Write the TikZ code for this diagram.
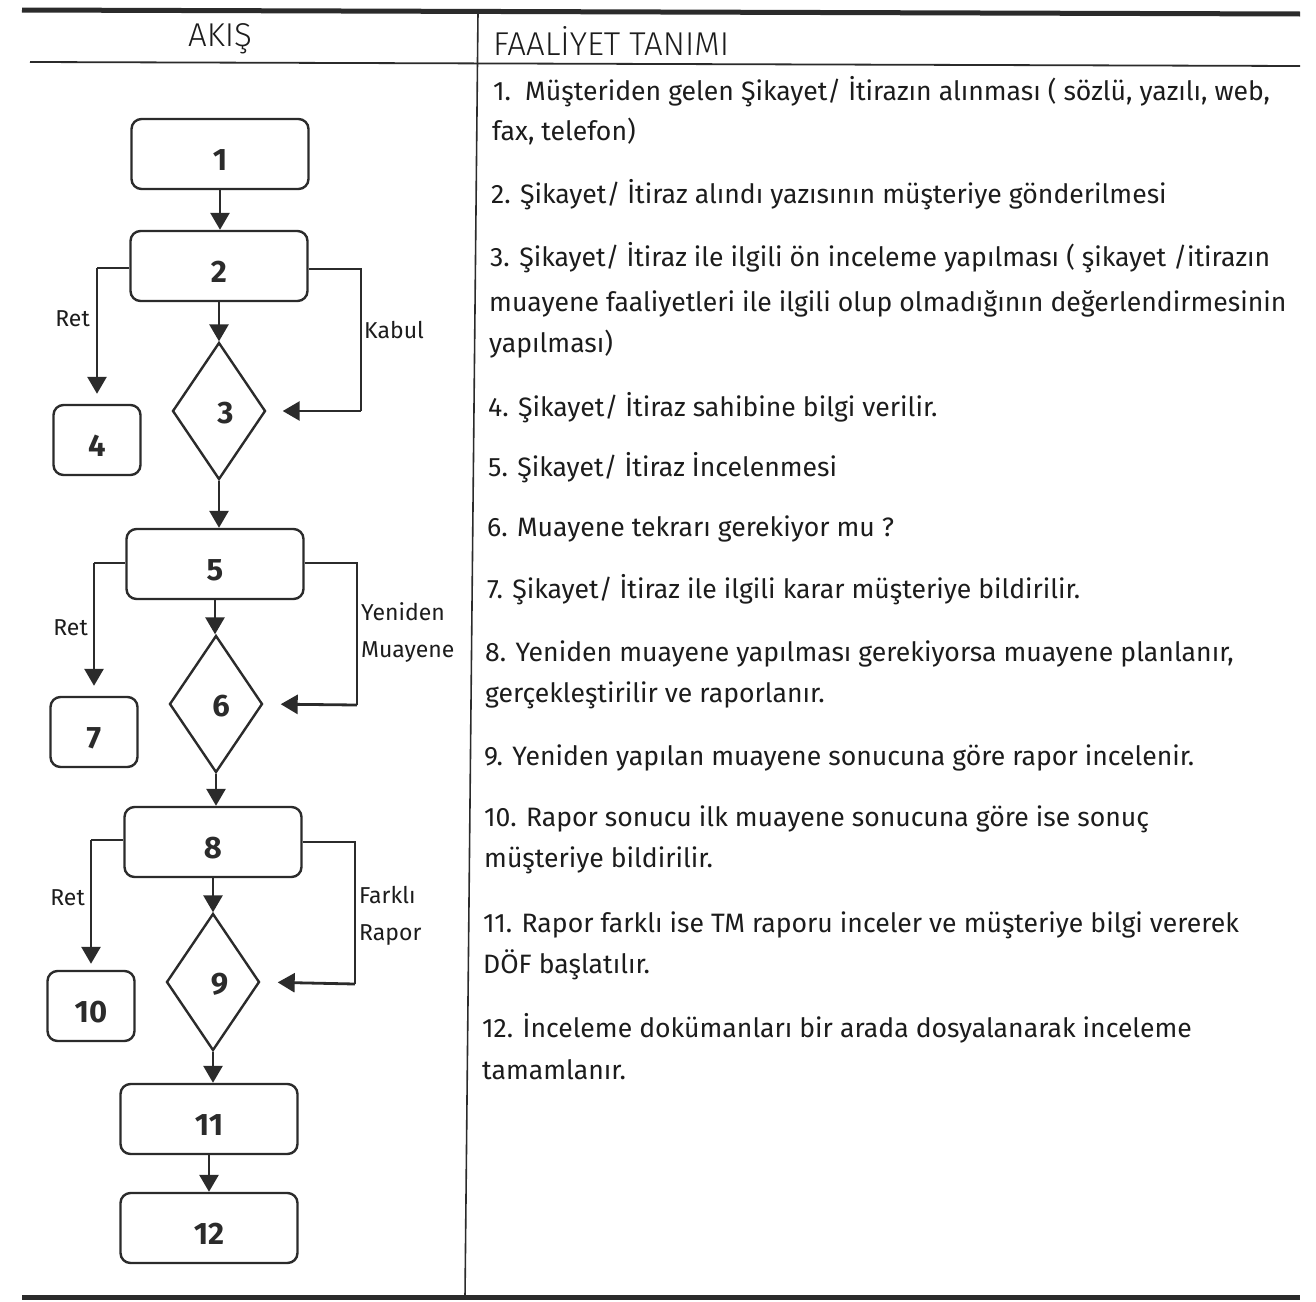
\documentclass[tikz,border=0pt]{standalone}
\usepackage{fontspec}
\setmainfont{Fira Sans}
\newfontfamily\hdrfont{Fira Sans Light}
\newfontfamily\bodyfont{Fira Sans}
\usetikzlibrary{shapes.geometric,arrows.meta}
\definecolor{ink}{HTML}{2B2B2B}
\definecolor{txt}{HTML}{1C1C1C}
\tikzset{
  box/.style={draw=ink,line width=2.4pt,rounded corners=10pt,minimum width=177pt,minimum height=70pt,inner sep=0pt,text height=32pt,text depth=0pt,font=\fontsize{31}{34}\selectfont\bfseries,text=ink},
  sbox/.style={box,minimum width=87pt},
  dia/.style={draw=ink,line width=2.4pt,diamond,minimum width=93pt,minimum height=137pt,inner sep=0pt,text height=25pt,text depth=0pt,font=\fontsize{31}{34}\selectfont\bfseries,text=ink},
  arr/.style={draw=ink,line width=2.8pt,-{Triangle[width=19pt,length=17pt]}},
  thinl/.style={draw=ink,line width=1.3pt},
  lbl/.style={font=\fontsize{23}{25}\selectfont,text=txt,inner sep=0pt},
  body/.style={font=\bodyfont\fontsize{26.6}{30}\selectfont,text=txt,anchor=base west,inner sep=0pt},
  hdr/.style={font=\hdrfont\fontsize{33}{36}\selectfont,text=txt,inner sep=0pt}
}
\begin{document}
\begin{tikzpicture}[x=1pt,y=-1pt]
\useasboundingbox (0,0) rectangle (1316,1301);
% table frame
\draw[ink,line width=5pt] (22,10) -- (1300,14);
\draw[ink,line width=1.8pt] (30,62) -- (1300,66);
\draw[ink,line width=1.6pt] (478,12) -- (465,1297);
\draw[ink,line width=5pt] (22,1297) -- (1300,1297);
\node[hdr] (hA) at (220,39) {AKIŞ};
\node[hdr,anchor=west] (hF) at (493,41) {FAALİYET TANIMI};
% flow nodes
\node[box] (n1) at (220,154) {1};
\node[box] (n2) at (219,266) {2};
\node[dia] (n3) at (219,411) {\hspace{13pt}3};
\node[sbox] (n4) at (97,440) {4};
\node[box] (n5) at (215,564) {5};
\node[dia] (n6) at (216,704) {\hspace{10pt}6};
\node[sbox] (n7) at (94,732) {7};
\node[box] (n8) at (213,842) {8};
\node[dia] (n9) at (213,982) {\hspace{13pt}9};
\node[sbox] (n10) at (91,1006) {10};
\node[box] (n11) at (209,1119) {11};
\node[box] (n12) at (209,1228) {12};
% main flow
\draw[arr] (n1.south) -- (n1.south |- n2.north);
\draw[arr] (n2.south) -- (n2.south |- n3.north);
\draw[arr] (n3.south) -- (n3.south |- n5.north);
\draw[arr] (n5.south) -- (n5.south |- n6.north);
\draw[arr] (n6.south) -- (n6.south |- n8.north);
\draw[arr] (n8.south) -- (n8.south |- n9.north);
\draw[arr] (n9.south) -- (n9.south |- n11.north);
\draw[arr] (n11.south) -- (n11.south |- n12.north);
% branches of 2
\coordinate (c2l) at (97,268);
\draw[thinl] (n2.west |- c2l) -- (c2l);
\draw[arr,shorten >=10pt] (c2l) -- (c2l |- n4.north);
\node[lbl,anchor=east] (r1) at (90,319) {Ret};
\coordinate (c2r) at (361,269);
\coordinate (c3r) at (361,411);
\draw[thinl] (n2.east |- c2r) -- (c2r) -- (c3r);
\draw[arr,shorten >=16pt] (c3r) -- (n3.east);
\node[lbl,anchor=west] (k1) at (364,330) {Kabul};
% branches of 5
\coordinate (c5l) at (94,563);
\draw[thinl] (n5.west |- c5l) -- (c5l);
\draw[arr,shorten >=10pt] (c5l) -- (c5l |- n7.north);
\node[lbl,anchor=east] (r2) at (88,628) {Ret};
\coordinate (c5r) at (357,563);
\coordinate (c6r) at (357,705);
\draw[thinl] (n5.east |- c5r) -- (c5r) -- (c6r);
\draw[arr,shorten >=17pt] (c6r) -- (n6.east);
\node[lbl,anchor=west] (y1) at (361,612) {Yeniden};
\node[lbl,anchor=west] (y2) at (361,652) {Muayene};
% branches of 8
\coordinate (c8l) at (91,840);
\draw[thinl] (n8.west |- c8l) -- (c8l);
\draw[arr,shorten >=6pt] (c8l) -- (c8l |- n10.north);
\node[lbl,anchor=east] (r3) at (85,898) {Ret};
\coordinate (c8r) at (355,842);
\coordinate (c9r) at (355,984);
\draw[thinl] (n8.east |- c8r) -- (c8r) -- (c9r);
\draw[arr,shorten >=17pt] (c9r) -- (n9.east);
\node[lbl,anchor=west] (f1) at (359,895) {Farklı};
\node[lbl,anchor=west] (f2) at (359,935) {Rapor};
% descriptions
\node[body] (t1a) at (493,100) {1.\ \ Müşteriden gelen Şikayet/ İtirazın alınması ( sözlü, yazılı, web,};
\node[body] (t1b) at (492,140) {fax, telefon)};
\node[body] (t2) at (491,203) {2. Şikayet/ İtiraz alındı yazısının müşteriye gönderilmesi};
\node[body] (t3a) at (490,266) {3. Şikayet/ İtiraz ile ilgili ön inceleme yapılması ( şikayet /itirazın};
\node[body] (t3b) at (489,311) {muayene faaliyetleri ile ilgili olup olmadığının değerlendirmesinin};
\node[body] (t3c) at (489,352) {yapılması)};
\node[body] (t4) at (488,416) {4. Şikayet/ İtiraz sahibine bilgi verilir.};
\node[body] (t5) at (488,476) {5. Şikayet/ İtiraz İncelenmesi};
\node[body] (t6) at (487,536) {6. Muayene tekrarı gerekiyor mu ?};
\node[body] (t7) at (487,598) {7. Şikayet/ İtiraz ile ilgili karar müşteriye bildirilir.};
\node[body] (t8a) at (485,661) {8. Yeniden muayene yapılması gerekiyorsa muayene planlanır,};
\node[body] (t8b) at (485,702) {gerçekleştirilir ve raporlanır.};
\node[body] (t9) at (484,765) {9. Yeniden yapılan muayene sonucuna göre rapor incelenir.};
\node[body] (t10a) at (484,826) {10. Rapor sonucu ilk muayene sonucuna göre ise sonuç};
\node[body] (t10b) at (484,867) {müşteriye bildirilir.};
\node[body] (t11a) at (483,932) {11. Rapor farklı ise TM raporu inceler ve müşteriye bilgi vererek};
\node[body] (t11b) at (483,973) {DÖF başlatılır.};
\node[body] (t12a) at (482,1037) {12. İnceleme dokümanları bir arada dosyalanarak inceleme};
\node[body] (t12b) at (482,1079) {tamamlanır.};
\end{tikzpicture}
\end{document}
